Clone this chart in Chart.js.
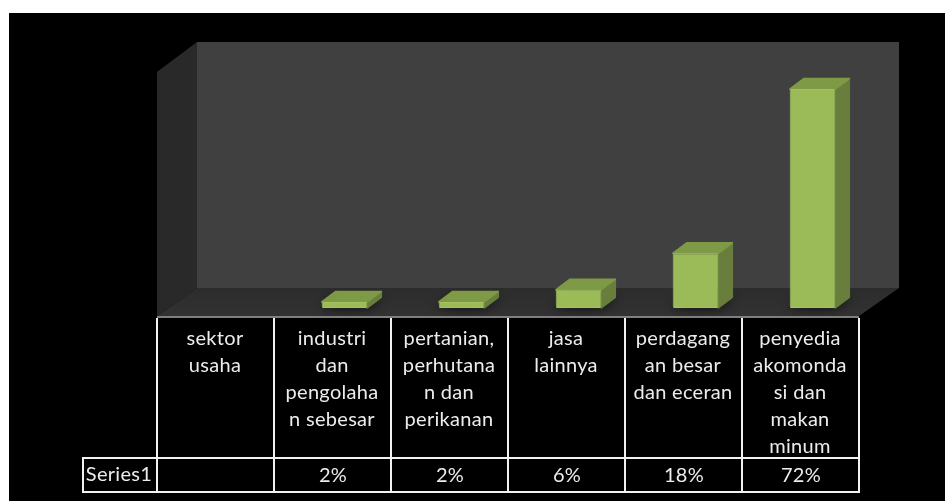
<!DOCTYPE html>
<html>
<head>
<meta charset="utf-8">
<style>
html,body{margin:0;padding:0;background:#fff;overflow:hidden}
canvas{display:block}
</style>
<script src="https://cdn.jsdelivr.net/npm/chart.js@4"></script>
</head>
<body>
<div style="width:945px;height:501px"><canvas id="c" width="945" height="501"></canvas></div>
<script>
const categories = [
  ["sektor","usaha"],
  ["industri","dan","pengolaha","n sebesar"],
  ["pertanian,","perhutana","n dan","perikanan"],
  ["jasa","lainnya"],
  ["perdagang","an besar","dan eceran"],
  ["penyedia","akomonda","si dan","makan","minum"]
];
const seriesName = "Series1";
const seriesValues = [null, 2, 2, 6, 18, 72];
const valueLabels = ["", "2%", "2%", "6%", "18%", "72%"];

const BAR_DX = 14, BAR_DY = 10.5, COL_SHIFT = 12;

function poly(ctx, pts, fill, round){
  ctx.beginPath();
  pts.forEach((p,i)=> i ? ctx.lineTo(p[0],p[1]) : ctx.moveTo(p[0],p[1]));
  ctx.closePath();
  ctx.fillStyle = fill;
  ctx.fill();
  if(round){
    ctx.strokeStyle = fill;
    ctx.lineWidth = 1.5;
    ctx.lineJoin = 'round';
    ctx.stroke();
  }
}

const scene = {
  id:'scene',
  beforeDatasetsDraw(chart){
    const ctx = chart.ctx;
    const xs = chart.scales.x;
    const colW = xs.getPixelForValue(1) - xs.getPixelForValue(0);
    const fl = xs.getPixelForValue(0) - colW/2 - COL_SHIFT;
    const fr = fl + colW*categories.length;
    const wd = 40, wh = 28, fy = 316, wt = 42;
    ctx.save();
    ctx.fillStyle = '#000';
    ctx.fillRect(9,13,936,488);
    poly(ctx,[[fl+wd,wt],[fr+wd,wt],[fr+wd,fy-wh],[fl+wd,fy-wh]],'#404040');
    poly(ctx,[[fl,wt+30],[fl+wd,wt],[fl+wd,fy-wh],[fl,fy]],'#292929');
    const g = ctx.createLinearGradient(0,fy-wh,0,fy);
    g.addColorStop(0,'#2c2c2c'); g.addColorStop(1,'#323232');
    poly(ctx,[[fl+wd,fy-wh],[fr+wd,fy-wh],[fr,fy],[fl,fy]],g);
    ctx.fillStyle = '#7f7f7f';
    ctx.fillRect(fl,fy,fr-fl,2);

    const meta = chart.getDatasetMeta(0);
    ctx.save();
    ctx.beginPath();
    ctx.moveTo(fl+wd,fy-wh);ctx.lineTo(fr+wd,fy-wh);ctx.lineTo(fr,fy);ctx.lineTo(fl,fy);ctx.closePath();
    ctx.clip();
    meta.data.forEach((b,i)=>{
      if(seriesValues[i]==null) return;
      const l=b.x-b.width/2, r=b.x+b.width/2, y=b.base;
      ctx.shadowColor='rgba(0,0,0,0.8)';
      ctx.shadowBlur=12;
      poly(ctx,[[l-2,y],[r,y],[r+BAR_DX+2,y-BAR_DY],[l+BAR_DX,y-BAR_DY]],'#222');
    });
    ctx.restore();
    meta.data.forEach((b,i)=>{
      if(seriesValues[i]==null) return;
      const l=b.x-b.width/2, r=b.x+b.width/2, t=b.y, y=b.base;
      poly(ctx,[[r,t],[r+BAR_DX,t-BAR_DY],[r+BAR_DX,y-BAR_DY],[r,y]],'#697e3c',true);
      poly(ctx,[[l,t],[l+BAR_DX,t-BAR_DY],[r+BAR_DX,t-BAR_DY],[r,t]],'#7f9a47',true);
    });
    ctx.restore();
  },
  afterDatasetsDraw(chart){
    const ctx = chart.ctx;
    const xs = chart.scales.x;
    const colW = xs.getPixelForValue(1) - xs.getPixelForValue(0);
    const fl = xs.getPixelForValue(0) - colW/2 - COL_SHIFT;
    const n = categories.length;
    const top = 318, mid = 458, bot = 492, lab = 83;
    ctx.save();
    ctx.strokeStyle = '#f2f2f2';
    ctx.lineWidth = 2;
    ctx.beginPath();
    for(let i=0;i<=n;i++){
      const x = fl + colW*i;
      ctx.moveTo(x,top); ctx.lineTo(x,bot+1);
    }
    ctx.moveTo(lab,mid); ctx.lineTo(fl+colW*n+1,mid);
    ctx.moveTo(lab,bot); ctx.lineTo(fl+colW*n+1,bot);
    ctx.moveTo(lab,mid-1); ctx.lineTo(lab,bot+1);
    ctx.stroke();

    ctx.fillStyle = '#ececec';
    ctx.font = '20px Lato, "Open Sans", sans-serif';
    ctx.letterSpacing = '0.3px';
    ctx.textAlign = 'center';
    ctx.textBaseline = 'middle';
    categories.forEach((lines,i)=>{
      const cx = fl + colW*(i+0.5) - 0.5;
      lines.forEach((s,k)=> ctx.fillText(s,cx,339+27*k));
      if(valueLabels[i]) ctx.fillText(valueLabels[i],cx+1,476);
    });
    ctx.fillText(seriesName,(lab+fl)/2-1,475);
    ctx.restore();
  }
};

new Chart(document.getElementById('c'),{
  type:'bar',
  data:{
    labels:categories,
    datasets:[{
      label:seriesName,
      data:seriesValues,
      backgroundColor:'#9bbb59',
      borderColor:'#a3c261',
      borderWidth:1,
      borderRadius:1.5,
      borderSkipped:false,
      barPercentage:0.39,
      categoryPercentage:1
    }]
  },
  options:{
    responsive:false,
    animation:false,
    devicePixelRatio:1,
    layout:{padding:{left:169,right:74,top:64.8,bottom:193}},
    plugins:{legend:{display:false},title:{display:false},tooltip:{enabled:false}},
    scales:{
      x:{display:false,grid:{display:false}},
      y:{display:false,min:0,max:80,grid:{display:false}}
    }
  },
  plugins:[scene]
});
</script>
</body>
</html>
